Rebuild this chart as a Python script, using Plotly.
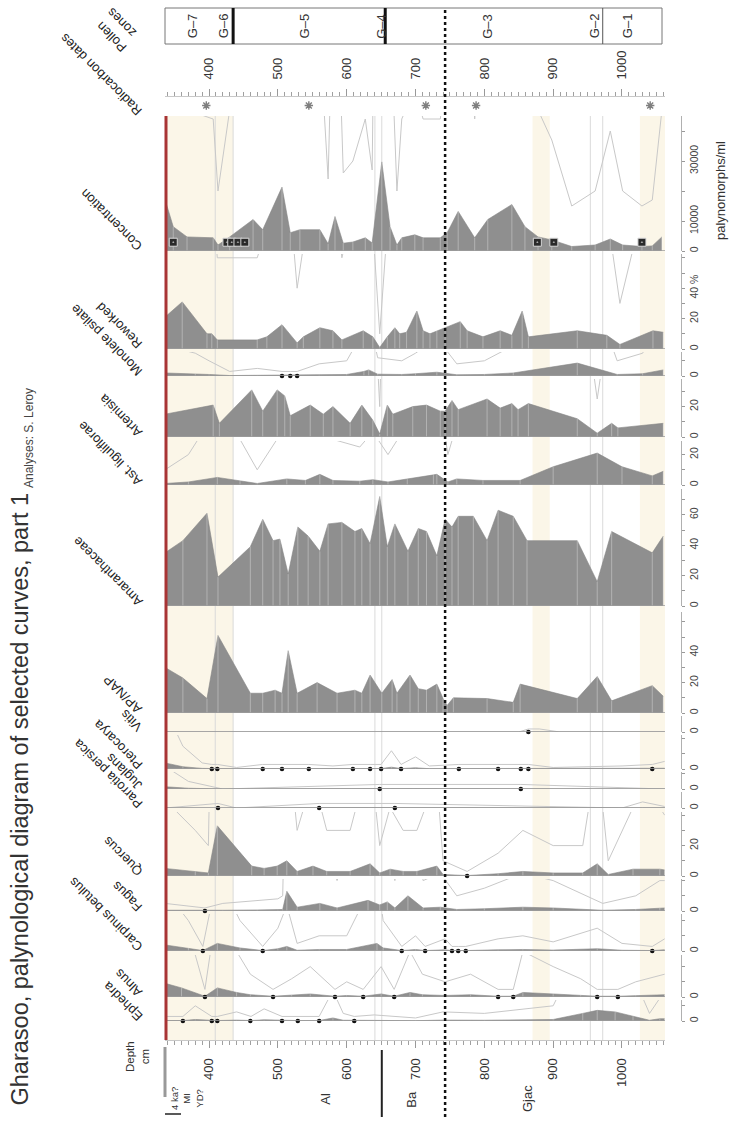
import plotly.graph_objects as go

# ---------------- data ----------------
depth_ticks = [400, 500, 600, 700, 800, 900, 1000]
radiocarbon_depths = [396, 545, 715, 788, 1041]
zone_names = ["G–7", "G–6", "G–5", "G–4", "G–3", "G–2", "G–1"]
zone_label_depths = [377, 422, 540, 651, 805, 961, 1009]
zone_bold_bounds = [435, 656]
zone_dotted_bound = 743
zone_thin_bounds = [972]
faint_bounds = [409, 435, 641, 651, 954, 972]
beige_bands = [(336, 435), (870, 895), (1026, 1062.5)]
litho_names = ["4 ka?<br>MI<br>YD?", "Al", "Ba", "Gjac"]
litho_label_depths = [368, 568, 693, 862]
litho_bounds = [651]
low_count_depths = [348, 426, 433, 442, 452, 877, 901, 1029]

conc_depth = [336, 348, 368, 406, 413, 430, 464, 478, 506, 518, 532, 561, 573, 583, 595, 609, 627, 637, 651, 663,
              673, 680, 699, 711, 736, 746, 762, 786, 805, 840, 859, 878, 898, 927, 961, 983, 1001, 1029, 1044, 1058]
conc_val = [17200, 8100, 4700, 4400, 2000, 4700, 10500, 7100, 21300, 6100, 7100, 7100, 2400, 11500, 2600, 3000, 4400,
            2700, 29700, 8100, 2000, 4400, 5400, 4400, 4400, 6100, 13200, 4400, 10500, 15500, 8100, 4700, 3700, 1500,
            2000, 4000, 2000, 1500, 1700, 4700]

rew_depth = [336, 361, 397, 404, 412, 470, 484, 506, 528, 537, 561, 580, 593, 624, 638, 648, 659, 670, 677, 687, 702,
             711, 721, 731, 743, 765, 775, 798, 823, 840, 855, 864, 935, 978, 997, 1045, 1060]
rew_val = [21, 31, 10, 10, 6, 6, 8, 16, 4, 8, 14, 12, 6, 12, 8, 1, 8, 14, 10, 11, 25, 12, 10, 12, 14, 18, 12, 8, 12,
           9, 25, 8, 12, 9, 3, 12, 11]

mono_depth = [336, 380, 400, 430, 470, 506, 518, 528, 560, 600, 625, 632, 645, 680, 700, 731, 760, 800, 842, 935, 993,
              1030, 1060]
mono_val = [2, 1.5, 1, 0.3, 0.5, 0.3, 0.3, 0.3, 0.8, 1, 3, 4, 1.2, 1, 1.5, 2.5, 0.8, 1, 2, 8.5, 1, 1.5, 4]

art_depth = [336, 406, 415, 462, 478, 499, 510, 518, 547, 566, 580, 605, 622, 638, 648, 659, 667, 696, 716, 736, 743,
             753, 762, 804, 823, 840, 849, 864, 935, 964, 985, 994, 1060]
art_val = [15, 21, 9, 31, 17, 31, 27, 14, 21, 15, 20, 9, 21, 11, 2, 21, 15, 20, 21, 17, 17, 24, 18, 25, 19, 22, 18, 22,
           12, 2.5, 9, 6, 9]

ast_depth = [336, 370, 412, 445, 470, 513, 540, 561, 580, 619, 638, 660, 688, 726, 731, 747, 760, 798, 852, 900, 964,
             1000, 1044, 1060]
ast_val = [1, 2, 5, 3, 1, 4, 3, 7, 3, 2.5, 3.5, 2, 4, 7, 7, 2, 4, 3, 3, 12, 21, 12, 6, 9]

am_depth = [336, 362, 397, 413, 460, 478, 493, 503, 515, 529, 544, 561, 573, 593, 612, 622, 634, 648, 659, 670, 689,
            704, 716, 731, 743, 753, 762, 784, 804, 820, 842, 862, 935, 964, 985, 1044, 1060]
am_val = [35, 43, 61, 19, 39, 57, 43, 44, 21, 52, 46, 36, 54, 55, 49, 51, 41, 72, 39, 54, 36, 51, 49, 33, 57, 52, 59,
          59, 43, 63, 59, 43, 43, 16, 49, 35, 46]

ap_depth = [336, 362, 397, 413, 460, 478, 496, 506, 515, 528, 557, 586, 612, 622, 634, 651, 666, 673, 692, 704, 716,
            731, 740, 746, 755, 804, 842, 852, 935, 964, 985, 1044, 1060]
ap_val = [30, 23, 9.5, 51, 13, 13, 15, 13, 41, 13, 20, 13, 15, 13, 25, 13, 22, 13, 25, 16, 15, 19, 9.5, 5, 10, 9.5, 7,
          19, 9.5, 24, 8, 18, 11]

vi_depth = [336, 850, 864, 880, 910, 1062]
vi_val = [0, 0, 0.2, 0.2, 0, 0]

pt_depth = [336, 362, 390, 404, 412, 440, 478, 506, 545, 580, 609, 634, 650, 665, 679, 700, 720, 763, 820, 853, 864,
            900, 1000, 1044, 1062]
pt_val = [4, 1.5, 0.4, 0.3, 0.3, 0.1, 0.3, 0.3, 0.3, 0.2, 0.3, 0.3, 0.3, 1.2, 0.3, 0.8, 0.2, 0.3, 0.3, 0.3, 0.3, 0.1,
          0.2, 0.3, 0.5]

ju_depth = [336, 370, 400, 420, 648, 853, 1062]
ju_val = [1.5, 0.5, 0.2, 0, 0.3, 0.3, 0]

pa_depth = [336, 413, 440, 560, 670, 1000, 1030, 1062]
pa_val = [0, 0.3, 0, 0.3, 0.3, 0, 0.4, 0.1]

qu_depth = [336, 380, 399, 412, 462, 480, 499, 513, 528, 551, 571, 605, 634, 648, 663, 682, 702, 731, 740, 775, 820,
            856, 900, 943, 964, 980, 1016, 1055, 1062]
qu_val = [5, 3, 2, 33, 6.5, 5, 6.5, 10, 3, 6.5, 3, 3, 8, 2, 4.5, 3, 3, 6.5, 1, 0.3, 1.5, 3, 2, 2, 8, 1, 4.5, 4.5, 4]

fa_depth = [336, 394, 420, 470, 500, 507, 513, 528, 561, 586, 631, 648, 659, 670, 689, 711, 736, 760, 800, 856, 900,
            972, 1020, 1055, 1062]
fa_val = [0.5, 0.2, 0.5, 0.7, 0.8, 1, 13, 2.5, 5, 2, 7, 4, 6, 2, 10, 2, 2.5, 1, 1.5, 2.5, 2, 0.5, 1, 2, 2]

ca_depth = [336, 370, 391, 412, 445, 478, 500, 513, 528, 560, 600, 644, 653, 680, 700, 714, 743, 753, 762, 773, 820,
            856, 900, 964, 1000, 1044, 1062]
ca_val = [4, 2, 0.3, 5, 2, 0.3, 1.5, 3, 0.5, 1, 1, 5, 2, 0.3, 1, 0.3, 0.8, 0.3, 0.3, 0.3, 0.8, 1, 0.6, 1.5, 0.5, 0.3,
          0.8]

al_depth = [336, 360, 394, 412, 440, 460, 493, 520, 547, 583, 600, 624, 650, 669, 692, 710, 743, 780, 820, 842, 856,
            900, 940, 964, 994, 1020, 1062]
al_val = [9, 6, 0.5, 6, 3, 1.5, 0.5, 1.2, 2, 0.5, 1, 0.5, 2, 0.5, 3, 1.5, 1, 1.5, 0.5, 0.5, 3, 2, 1.2, 0.5, 0.5, 1,
          1.5]

ep_depth = [336, 362, 380, 404, 412, 440, 461, 480, 506, 528, 560, 580, 595, 611, 640, 700, 740, 800, 900, 943, 964,
            990, 1016, 1040, 1055, 1062]
ep_val = [0.3, 0.3, 1, 0.3, 0.3, 0.6, 0.3, 0.8, 0.3, 0.3, 0.3, 2, 0.5, 0.3, 0.4, 0.2, 0.6, 0.5, 1, 5, 7, 6, 3, 0.5,
          1.5, 1.5]

# presence dots (taxon found at very low values)
mono_dots = [506, 518, 528]
vi_dots = [864]
pt_dots = [404, 412, 478, 506, 545, 609, 634, 650, 679, 763, 820, 853, 864, 1044]
ju_dots = [648, 853]
pa_dots = [413, 560, 670]
qu_dots = [775]
fa_dots = [394]
ca_dots = [391, 478, 680, 714, 753, 762, 773, 1044]
al_dots = [394, 493, 583, 624, 669, 820, 842, 964, 994]
ep_dots = [362, 404, 412, 460, 506, 529, 560, 611]

# taxon names
taxa = ["Concentration", "Reworked", "Monolete psilate", "Artemisia", "Ast. liguliflorae", "Amaranthaceae",
        "AP/NAP", "Vitis", "Pterocarya", "Juglans", "Parrotia persica", "Quercus", "Fagus", "Carpinus betulus",
        "Alnus", "Ephedra"]
series_depths = [conc_depth, rew_depth, mono_depth, art_depth, ast_depth, am_depth, ap_depth, vi_depth, pt_depth,
                 ju_depth, pa_depth, qu_depth, fa_depth, ca_depth, al_depth, ep_depth]
series_values = [conc_val, rew_val, mono_val, art_val, ast_val, am_val, ap_val, vi_val, pt_val, ju_val, pa_val,
                 qu_val, fa_val, ca_val, al_val, ep_val]
series_dots = [[], [], mono_dots, [], [], [], [], vi_dots, pt_dots, ju_dots, pa_dots, qu_dots, fa_dots, ca_dots,
               al_dots, ep_dots]
exaggerated = [True, True, True, True, True, False, False, True, True, True, True, True, True, True, True, True]
tick_values = [[0, 10000, 20000, 30000, 40000], [0, 10, 20, 30, 40, 50, 60], [0, 10], [0, 10, 20, 30], [0, 10, 20],
               [0, 10, 20, 30, 40, 50, 60, 70], [0, 10, 20, 30, 40, 50, 60], [0], [0, 10, 20], [0, 10], [0],
               [0, 10, 20, 30, 40], [0, 10, 20], [0, 10, 20], [0, 10, 20], [0, 10]]
tick_texts = [["0", "10000", "", "30000", ""], ["0", "", "20", "", "40 %", "", ""], ["0", ""], ["0", "", "20", ""],
              ["0", "", "20"], ["0", "", "20", "", "40", "", "60", ""], ["0", "", "20", "", "40", "", ""], ["0"],
              ["0", "", ""], ["0", ""], ["0"], ["0", "", "20", "", ""], ["0", "", ""], ["0", "", ""], ["0", "", ""],
              ["0", ""]]

# ---------------- layout geometry (pixels of the 731x1124 page) ----------------
W, H = 731, 1124
FONT = "Liberation Sans, Arial, sans-serif"
DEPTH_RANGE = [336, 1062.5]
PX_L, PX_R = 165, 665
strip_base = [251, 349, 376, 437, 485, 606, 713, 732, 769, 789, 808, 876, 911, 951, 997, 1021]
strip_top = [116, 254, 352, 379, 441, 489, 612, 716, 735, 772, 792, 812, 879, 914, 955, 1000]
strip_scale = [0.003] + [1.52] * 15   # px per unit


def fx(px):
    return px / W


def fy(py):
    return 1 - py / H


fig = go.Figure()
axes = {}
shapes = []
annotations = []

for i, name in enumerate(taxa):
    k = i + 1
    yname = "y" if k == 1 else f"y{k}"
    lname = "yaxis" if k == 1 else f"yaxis{k}"
    dep = series_depths[i]
    val = series_values[i]
    rng = (strip_base[i] - strip_top[i]) / strip_scale[i]
    if exaggerated[i]:
        fig.add_trace(go.Scatter(x=dep, y=[v * 10 for v in val], mode="lines", xaxis="x", yaxis=yname,
                                 line=dict(color="#c8c8c8", width=1), hoverinfo="skip"))
    fig.add_trace(go.Scatter(x=dep, y=val, mode="lines", fill="tozeroy", fillcolor="#8f8f8f",
                             line=dict(color="#858585", width=0.6), xaxis="x", yaxis=yname, hoverinfo="skip"))
    sx, sy = [], []
    for d, v in zip(dep, val):
        sx += [d, d, None]
        sy += [0, v, None]
    fig.add_trace(go.Scatter(x=sx, y=sy, mode="lines", line=dict(color="rgba(255,255,255,0.32)", width=1),
                             xaxis="x", yaxis=yname, hoverinfo="skip"))
    if series_dots[i]:
        fig.add_trace(go.Scatter(x=series_dots[i], y=[0] * len(series_dots[i]), mode="markers", xaxis="x",
                                 yaxis=yname, cliponaxis=False,
                                 marker=dict(size=4.5, color="#111"), hoverinfo="skip"))
    if i == 0:
        fig.add_trace(go.Scatter(x=low_count_depths, y=[rng * 0.065] * len(low_count_depths), mode="markers",
                                 xaxis="x", yaxis=yname, cliponaxis=False,
                                 marker=dict(symbol="square-dot", size=8, color="#2a2a2a",
                                             line=dict(color="#d8d8d8", width=1)), hoverinfo="skip"))
    axes[lname] = dict(domain=[fy(strip_base[i]), fy(strip_top[i])], range=[0, rng], anchor="free",
                       position=fx(681), side="right", tickmode="array", tickvals=tick_values[i],
                       ticktext=tick_texts[i], tickangle=-90, ticks="outside", ticklen=3, tickcolor="#999",
                       showline=True, linecolor="#b0b0b0", linewidth=1, showgrid=False, zeroline=False,
                       tickfont=dict(size=10.5, color="#444", family=FONT), automargin=False, fixedrange=True)
    shapes.append(dict(type="line", xref="paper", yref=yname, x0=fx(PX_L), x1=fx(PX_R), y0=0, y1=0,
                       line=dict(color="#9c9c9c", width=1.5), layer="above"))
    annotations.append(dict(text=name, xref="paper", yref="paper", x=fx(148), y=fy(strip_base[i] + 6),
                            xanchor="right", yanchor="bottom", textangle=-135, showarrow=False,
                            font=dict(size=13, color="#222", family=FONT)))

# radiocarbon dates row
rc_axis = len(taxa) + 1
fig.add_trace(go.Scatter(x=radiocarbon_depths, y=[0.5] * len(radiocarbon_depths), mode="markers", xaxis="x2",
                         yaxis=f"y{rc_axis}", cliponaxis=False,
                         marker=dict(symbol="asterisk-open", size=7, line=dict(color="#555", width=1.4)),
                         hoverinfo="skip"))
axes[f"yaxis{rc_axis}"] = dict(domain=[fy(112), fy(99)], range=[0, 1], visible=False, anchor="x2",
                               fixedrange=True)

tickfont = dict(size=13, color="#333", family=FONT)
minor = dict(dtick=10, ticks="outside", ticklen=4, tickcolor="#a0a0a0", showgrid=False)
axes["xaxis"] = dict(domain=[fx(PX_L), fx(PX_R)], range=DEPTH_RANGE, anchor="free", position=fy(1040),
                     side="bottom", tickmode="array", tickvals=depth_ticks, tickangle=-90, ticks="outside",
                     ticklen=7, tickcolor="#999", showline=True, linecolor="#c8c8c8", showgrid=False,
                     zeroline=False, tickfont=tickfont, minor=minor, ticklabelstandoff=5, automargin=False,
                     fixedrange=True)
axes["xaxis2"] = dict(domain=[fx(PX_L), fx(PX_R)], range=DEPTH_RANGE, anchor="free", position=fy(96),
                      side="top", tickmode="array", tickvals=depth_ticks, tickangle=-90, ticks="outside",
                      ticklen=7, tickcolor="#999", showline=True, linecolor="#c8c8c8", showgrid=False,
                      zeroline=False, tickfont=tickfont, minor=minor, ticklabelstandoff=7, automargin=False,
                      fixedrange=True)

# background bands and guide lines
for a, b in beige_bands:
    shapes.append(dict(type="rect", xref="x", yref="paper", x0=a, x1=b, y0=fy(1040), y1=fy(116),
                       fillcolor="#fbf6e8", line=dict(width=0), layer="below"))
for d in faint_bounds:
    shapes.append(dict(type="line", xref="x", yref="paper", x0=d, x1=d, y0=fy(1040), y1=fy(116),
                       line=dict(color="#dadada", width=1), layer="below"))
shapes.append(dict(type="line", xref="paper", yref="paper", x0=fx(PX_L + 1), x1=fx(PX_L + 1), y0=fy(1040),
                   y1=fy(116), line=dict(color="#a83434", width=3), layer="above"))

# zones box
shapes.append(dict(type="rect", xref="paper", yref="paper", x0=fx(PX_L), x1=fx(662), y0=fy(44), y1=fy(8),
                   line=dict(color="#777", width=1), fillcolor="rgba(0,0,0,0)"))
for d in zone_bold_bounds:
    shapes.append(dict(type="line", xref="x", yref="paper", x0=d, x1=d, y0=fy(44), y1=fy(8),
                       line=dict(color="#111", width=3)))
for d in zone_thin_bounds:
    shapes.append(dict(type="line", xref="x", yref="paper", x0=d, x1=d, y0=fy(44), y1=fy(8),
                       line=dict(color="#555", width=1)))
shapes.append(dict(type="line", xref="x", yref="paper", x0=zone_dotted_bound, x1=zone_dotted_bound,
                   y0=fy(1117), y1=fy(8), line=dict(color="#111", width=2.5, dash="dot"), layer="above"))
for nm, d in zip(zone_names, zone_label_depths):
    annotations.append(dict(text=nm, xref="x", yref="paper", x=d, y=fy(26), xanchor="center",
                            yanchor="middle", textangle=-90, showarrow=False,
                            font=dict(size=13, color="#333", family=FONT)))

# lithozones column
for d in litho_bounds:
    shapes.append(dict(type="line", xref="x", yref="paper", x0=d, x1=d, y0=fy(1117), y1=fy(1050),
                       line=dict(color="#222", width=2)))
shapes.append(dict(type="line", xref="paper", yref="paper", x0=fx(165), x1=fx(165), y0=fy(1097), y1=fy(1047),
                   line=dict(color="#999", width=3)))
shapes.append(dict(type="line", xref="paper", yref="paper", x0=fx(165), x1=fx(181), y0=fy(1114), y1=fy(1114),
                   line=dict(color="#222", width=1.5)))
for nm, d in zip(litho_names, litho_label_depths):
    small = "<br>" in nm
    annotations.append(dict(text=nm, xref="x", yref="paper", x=d, y=fy(1099), xanchor="center",
                            yanchor="middle", textangle=-90, showarrow=False,
                            font=dict(size=9.5 if small else 13, color="#333", family=FONT)))

# other texts
annotations += [
    dict(text="Gharasoo, palynological diagram of selected curves, part 1", xref="paper", yref="paper",
         x=fx(19), y=fy(1108), xanchor="center", yanchor="bottom", textangle=-90, showarrow=False,
         font=dict(size=23.5, color="#333", family=FONT)),
    dict(text="Analyses: S. Leroy", xref="paper", yref="paper", x=fx(29), y=fy(490), xanchor="center",
         yanchor="bottom", textangle=-90, showarrow=False, font=dict(size=12, color="#444", family=FONT)),
    dict(text="Radiocarbon dates", xref="paper", yref="paper", x=fx(148), y=fy(121), xanchor="right",
         yanchor="bottom", textangle=-135, showarrow=False, font=dict(size=13, color="#222", family=FONT)),
    dict(text="Pollen", xref="paper", yref="paper", x=fx(132), y=fy(58), xanchor="right",
         yanchor="bottom", textangle=-135, showarrow=False, font=dict(size=13, color="#222", family=FONT)),
    dict(text="zones", xref="paper", yref="paper", x=fx(142), y=fy(43), xanchor="right",
         yanchor="bottom", textangle=-135, showarrow=False, font=dict(size=13, color="#222", family=FONT)),
    dict(text="palynomorphs/ml", xref="paper", yref="paper", x=fx(721), y=fy(191), xanchor="center",
         yanchor="middle", textangle=-90, showarrow=False, font=dict(size=13, color="#333", family=FONT)),
    dict(text="Depth<br>cm", xref="paper", yref="paper", x=fx(137), y=fy(1057), xanchor="center",
         yanchor="middle", textangle=-90, showarrow=False, font=dict(size=11.5, color="#333", family=FONT)),
]

fig.update_layout(width=W, height=H, margin=dict(l=0, r=0, t=0, b=0), template="none",
                  paper_bgcolor="white", plot_bgcolor="rgba(0,0,0,0)", showlegend=False,
                  font=dict(family=FONT), shapes=shapes, annotations=annotations, **axes)

fig.write_html("out.html", include_plotlyjs=True, config={"displayModeBar": False},
               post_script="document.body.style.margin='0';document.body.style.overflow='hidden';")
